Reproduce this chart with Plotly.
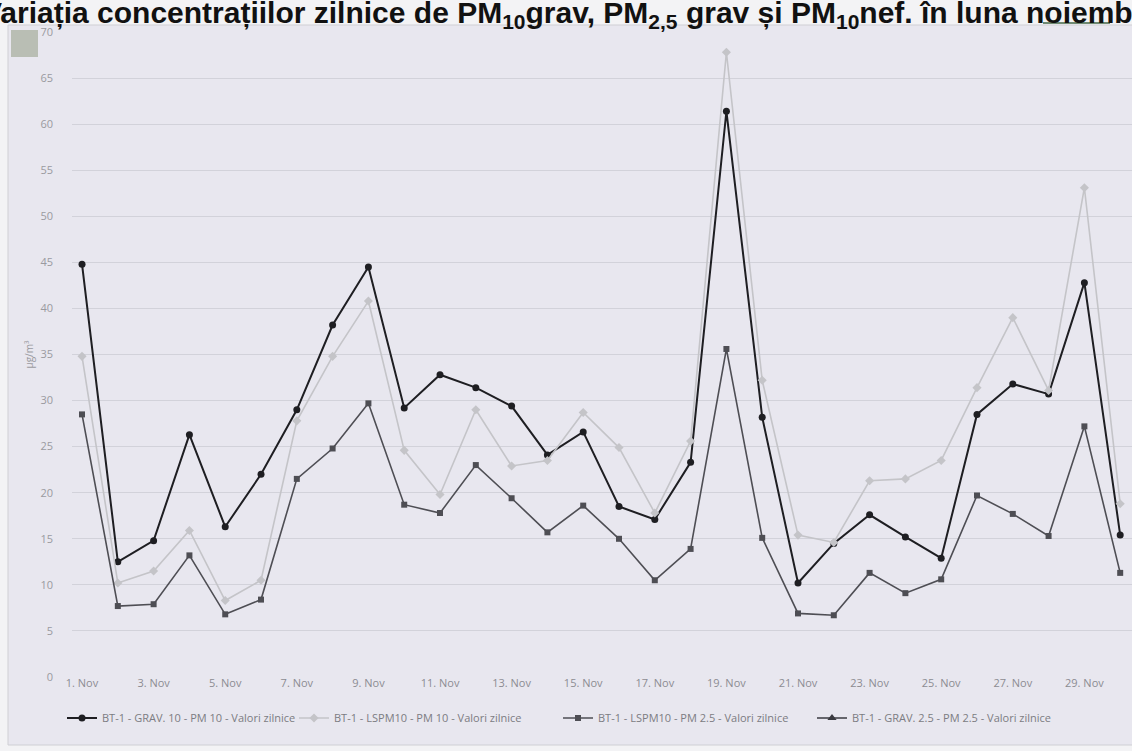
import plotly.graph_objects as go

# ---- data ----
days = list(range(1, 31))
tick_days = list(range(1, 31, 2))
tick_labels = [f"{d}. Nov" for d in tick_days]

grav_pm10 = [44.8, 12.5, 14.8, 26.3, 16.3, 22.0, 29.0, 38.2, 44.5, 29.2,
             32.8, 31.4, 29.4, 24.1, 26.6, 18.5, 17.1, 23.3, 61.4, 28.2,
             10.2, 14.5, 17.6, 15.2, 12.9, 28.5, 31.8, 30.7, 42.8, 15.4]
lspm_pm10 = [34.8, 10.2, 11.5, 15.9, 8.3, 10.5, 27.8, 34.8, 40.8, 24.6,
             19.8, 29.0, 22.9, 23.5, 28.7, 24.9, 17.8, 25.6, 67.8, 32.2,
             15.4, 14.6, 21.3, 21.5, 23.5, 31.4, 39.0, 31.1, 53.1, 18.8]
lspm_pm25 = [28.5, 7.7, 7.9, 13.2, 6.8, 8.4, 21.5, 24.8, 29.7, 18.7,
             17.8, 23.0, 19.4, 15.7, 18.6, 15.0, 10.5, 13.9, 35.6, 15.1,
             6.9, 6.7, 11.3, 9.1, 10.6, 19.7, 17.7, 15.3, 27.2, 11.3]
grav_pm25 = [None] * 30

names = ["BT-1 - GRAV. 10 - PM 10 - Valori zilnice",
         "BT-1 - LSPM10 - PM 10 - Valori zilnice",
         "BT-1 - LSPM10 - PM 2.5 - Valori zilnice",
         "BT-1 - GRAV. 2.5 - PM 2.5 - Valori zilnice"]

title_text = ("<b>Variația concentrațiilor zilnice de PM<sub>10</sub>grav, "
              "PM<sub>2,5</sub> grav și PM<sub>10</sub>nef. în luna noiembrie</b>")

# ---- layout geometry (pixels) ----
W, H = 1132, 751
L, R, T, B = 72, 0, 32, 74
PW = W - L - R
PH = H - T - B


def px(xp):
    return (xp - L) / PW


def py(yp):
    return (H - B - yp) / PH


fig = go.Figure()

styles = [
    dict(color="#1e1e22", width=2.0, symbol="circle", size=7),
    dict(color="#c4c4c8", width=1.6, symbol="diamond", size=7),
    dict(color="#4e4e54", width=1.6, symbol="square", size=6),
    dict(color="#3a3a40", width=1.6, symbol="triangle-up", size=8),
]
legend_ids = ["legend", "legend2", "legend3", "legend4"]
legend_text_start = [100, 332, 596, 850]

for name, vals, st, lid in zip(names, [grav_pm10, lspm_pm10, lspm_pm25, grav_pm25],
                               styles, legend_ids):
    fig.add_trace(go.Scatter(
        x=days, y=vals, name=name, mode="lines+markers", legend=lid,
        line=dict(color=st["color"], width=st["width"]),
        marker=dict(color=st["color"], symbol=st["symbol"], size=st["size"]),
    ))

legend_layout = {}
for lid, ts in zip(legend_ids, legend_text_start):
    legend_layout[lid] = dict(
        orientation="h", x=px(ts - 38), y=py(718), xanchor="left", yanchor="middle",
        font=dict(family="Open Sans", size=11, color="#7c7c82"),
        bgcolor="rgba(0,0,0,0)", itemwidth=30)

fig.update_layout(
    width=W, height=H,
    margin=dict(l=L, r=R, t=T, b=B, autoexpand=False),
    paper_bgcolor="#f3f3f5",
    plot_bgcolor="rgba(0,0,0,0)",
    font=dict(family="Open Sans", color="#8c8c92"),
    showlegend=True,
    xaxis=dict(range=[0.72, 30.33], tickmode="array", tickvals=tick_days,
               ticktext=tick_labels, showgrid=False, zeroline=False,
               showline=False, ticks="", automargin=False, ticklabelstandoff=-2,
               tickfont=dict(size=11, color="#8c8c92")),
    yaxis=dict(range=[0, 70], dtick=5, showgrid=True, gridcolor="#d2d2da",
               gridwidth=1, zeroline=False, showline=False, ticks="",
               automargin=False, ticklabelstandoff=18,
               tickfont=dict(size=11, color="#9a9aa0"),
               title=dict(text="µg/m³", font=dict(size=10, color="#9a9aa0"), standoff=4)),
    shapes=[
        dict(type="rect", xref="paper", yref="paper", layer="below",
             x0=px(8), x1=px(W + 5), y0=py(745), y1=py(25),
             fillcolor="#e8e7ef", line=dict(color="#cfcfd4", width=1)),
        dict(type="rect", xref="paper", yref="paper", layer="above",
             x0=px(11), x1=px(38), y0=py(57), y1=py(30),
             fillcolor="#b9beb4", line=dict(width=0)),
        dict(type="line", xref="paper", yref="paper", layer="above",
             x0=px(1043), x1=px(1110), y0=py(23), y1=py(23),
             line=dict(color="#6f8a72", width=2)),
    ],
    annotations=[
        dict(text=title_text, xref="paper", yref="paper", x=px(-20), y=py(14),
             xanchor="left", yanchor="middle", showarrow=False,
             font=dict(family="Liberation Sans", size=30, color="#111111")),
    ],
    **legend_layout,
)

fig.write_html("out.html", config={"displayModeBar": False},
               post_script="document.body.style.margin='0px';")
